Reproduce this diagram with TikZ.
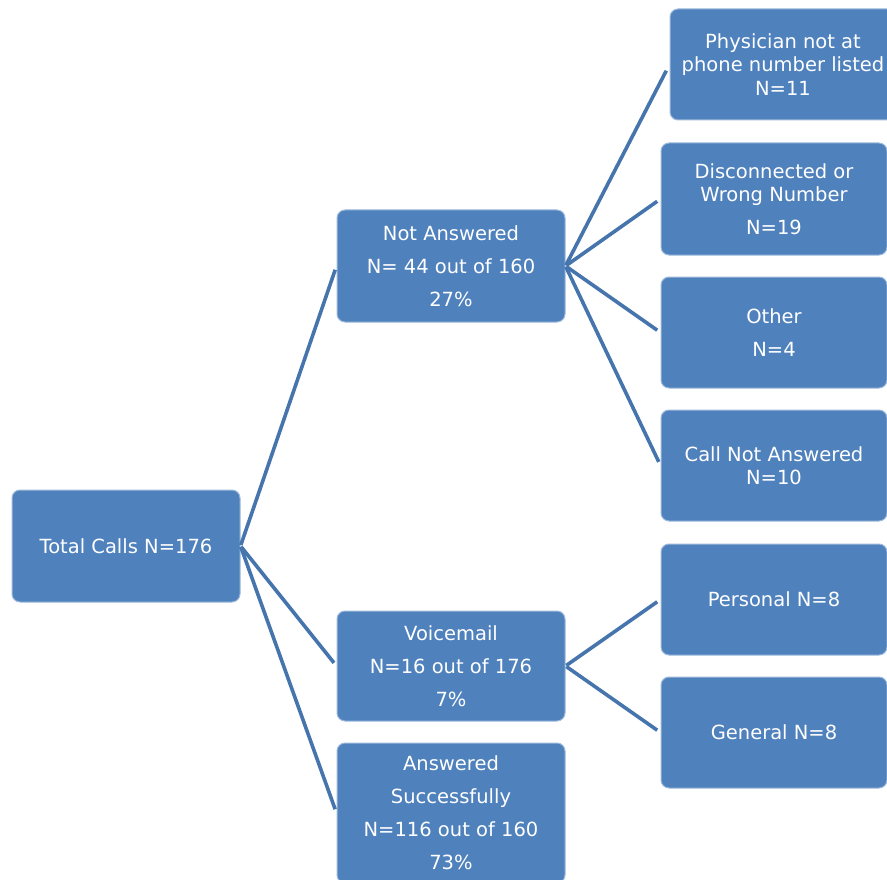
\documentclass[tikz,border=0pt]{standalone}
\usepackage{fontspec}
\setmainfont{DejaVu Sans}
\definecolor{boxblue}{HTML}{4F81BD}
\definecolor{lineblue}{HTML}{4675AE}
\begin{document}
\begin{tikzpicture}[x=1pt,y=-1pt,
  box/.style={rectangle, rounded corners=8pt, fill=boxblue, draw=boxblue!55!white,
    line width=1pt, text=white, align=center, minimum width=228pt,
    minimum height=112pt, inner sep=0pt, font=\fontsize{19.5}{23.5}\selectfont},
  link/.style={draw=lineblue, line width=3.6pt, shorten >=4pt, shorten <=1pt}]
\useasboundingbox (0,0) rectangle (887,880);
\clip (0,0) rectangle (887,880);

\node[box] (total) at (126,546) {Total Calls N=176};
\node[box] (na) at (451,266) {Not Answered\\[9.5pt]N= 44 out of 160\\[9.5pt]27\%};
\node[box, minimum height=110pt] (vm) at (451,666) {Voicemail\\[9.5pt]N=16 out of 176\\[9.5pt]7\%};
\node[box, minimum height=140pt] (ans) at (451,813) {Answered\\[9.5pt]Successfully\\[9.5pt]N=116 out of 160\\[9.5pt]73\%};

\node[box, minimum width=226pt, minimum height=111pt] (phys) at (783,64.5) {Physician not at\\phone number listed\\N=11};
\node[box, minimum width=226pt] (disc) at (774,199) {Disconnected or\\Wrong Number\\[9.5pt]N=19};
\node[box, minimum width=226pt, minimum height=111pt] (other) at (774,332.5) {Other\\[9.5pt]N=4};
\node[box, minimum width=226pt, minimum height=111pt] (cna) at (774,465.5) {Call Not Answered\\N=10};
\node[box, minimum width=226pt, minimum height=111pt] (pers) at (774,599.5) {Personal N=8};
\node[box, minimum width=226pt, minimum height=111pt] (gen) at (774,732.5) {General N=8};

\draw[link] (total.east) -- (na.west);
\draw[link] (total.east) -- (vm.west);
\draw[link] (total.east) -- (ans.west);
\draw[link, shorten >=7pt] (na.east) -- (phys.west);
\draw[link] (na.east) -- (disc.west);
\draw[link] (na.east) -- (other.west);
\draw[link] (na.east) -- (cna.west);
\draw[link] (vm.east) -- (pers.west);
\draw[link] (vm.east) -- (gen.west);
\end{tikzpicture}
\end{document}
